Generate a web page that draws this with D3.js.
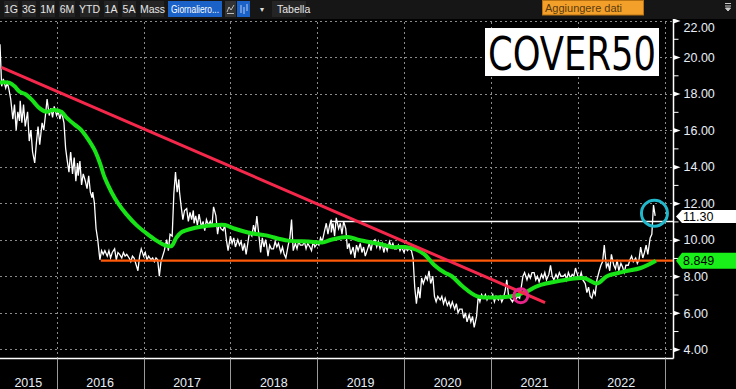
<!DOCTYPE html>
<html>
<head>
<meta charset="utf-8">
<script src="https://cdn.jsdelivr.net/npm/d3@7"></script>
<style>
  html, body { margin: 0; padding: 0; background: #000; overflow: hidden; }
  svg { display: block; font-family: "Liberation Sans", Arial, sans-serif; }
</style>
</head>
<body>
<div id="chart"></div>
<script>
// ---- data ----
// weekly closes, grouped by month (1st, 8th, 15th, 22nd, 29th)
const priceMonths = [
  '2015-05', '2015-06', '2015-07', '2015-08', '2015-09', '2015-10', '2015-11', '2015-12',
  '2016-01', '2016-02', '2016-03', '2016-04', '2016-05', '2016-06', '2016-07', '2016-08', '2016-09', '2016-10', '2016-11', '2016-12',
  '2017-01', '2017-02', '2017-03', '2017-04', '2017-05', '2017-06', '2017-07', '2017-08', '2017-09', '2017-10', '2017-11', '2017-12',
  '2018-01', '2018-02', '2018-03', '2018-04', '2018-05', '2018-06', '2018-07', '2018-08', '2018-09', '2018-10', '2018-11', '2018-12',
  '2019-01', '2019-02', '2019-03', '2019-04', '2019-05', '2019-06', '2019-07', '2019-08', '2019-09', '2019-10', '2019-11', '2019-12',
  '2020-01', '2020-02', '2020-03', '2020-04', '2020-05', '2020-06', '2020-07', '2020-08', '2020-09', '2020-10', '2020-11', '2020-12',
  '2021-01', '2021-02', '2021-03', '2021-04', '2021-05', '2021-06', '2021-07', '2021-08', '2021-09', '2021-10', '2021-11', '2021-12',
  '2022-01', '2022-02', '2022-03', '2022-04', '2022-05', '2022-06', '2022-07', '2022-08', '2022-09', '2022-10', '2022-11'
];
const priceWeeks = [
  [18.5, 20.7, 18.4, 18.8], [18.3, 18.6, 18.2, 17.7], [16.6, 17.4, 16.0, 17.0, 16.5], [17.6, 16.4, 17.4, 16.2],
  [17.0, 15.4, 16.0, 14.8], [14.2, 15.3, 16.2, 15.2], [16.4, 16.0, 16.8, 17.7], [16.8, 17.2, 16.7, 17.3],
  [16.8, 17.0, 16.6, 17.0], [16.4, 15.0, 14.3, 13.7, 14.8], [14.7, 13.6, 14.5, 13.2, 14.2], [13.5, 14.3, 13.0, 13.6],
  [13.2, 12.8, 13.5, 12.6, 12.3], [12.6, 12.0, 10.6, 10.0], [8.9, 9.4, 9.2, 9.4], [9.1, 9.4, 9.0, 9.3],
  [9.5, 8.9, 9.3, 9.2], [9.0, 9.3, 9.1, 9.2], [9.0, 8.8, 9.1, 9.0], [8.6, 8.3, 9.1, 9.5],
  [9.1, 9.3, 8.9, 9.1], [8.9, 9.0, 8.8, 9.0], [8.9, 8.0, 8.8, 9.1, 9.4], [9.6, 10.0, 9.4, 10.3],
  [10.2, 12.5, 13.7, 12.6, 13.3], [12.6, 11.8, 11.1, 11.6], [11.7, 11.0, 11.5, 11.1, 11.6], [10.9, 11.3, 10.8, 11.4],
  [10.7, 11.0, 10.5, 11.1], [10.8, 11.0, 10.7, 11.8], [11.3, 10.3, 10.9, 10.6], [10.5, 10.8, 10.0, 9.4],
  [10.2, 9.8, 10.1, 9.6], [10.0, 9.7, 9.9, 9.4], [9.8, 9.2, 9.8, 10.4], [10.2, 10.8, 10.4, 11.3],
  [10.2, 9.3, 10.1, 9.6, 10.0], [9.8, 9.1, 9.7, 9.5], [9.5, 9.9, 9.6, 9.8], [9.3, 9.6, 9.2, 9.0],
  [9.7, 10.1, 11.1, 9.4], [9.8, 9.5, 9.9, 9.7], [9.7, 9.9, 9.5, 9.8], [9.6, 9.4, 9.9, 9.6],
  [9.8, 9.7, 10.1, 9.9], [10.5, 10.9, 10.3, 10.8, 11.1], [10.4, 10.9, 10.2, 11.2], [10.6, 10.9, 10.3, 11.0],
  [10.6, 9.5, 9.8, 9.2], [9.6, 9.0, 9.7, 9.4], [9.8, 9.3, 9.6, 9.1], [9.5, 9.8, 9.4, 9.9],
  [10.0, 9.6, 9.9, 9.5], [9.8, 9.3, 9.7, 9.4], [9.9, 9.6, 9.8, 9.5], [9.5, 9.7, 9.4, 9.6],
  [9.3, 9.6, 9.4, 9.5], [9.4, 9.0, 7.4, 6.5], [7.4, 6.8, 7.9, 7.6], [8.0, 7.8, 8.3, 7.6],
  [8.0, 6.9, 6.6, 6.9], [6.7, 6.9, 6.5, 6.8], [6.4, 6.6, 6.3, 6.6], [6.2, 6.5, 6.0, 6.2],
  [6.2, 5.7, 6.0, 5.5], [5.9, 5.5, 5.8, 5.2], [5.8, 6.9, 6.6, 7.0], [6.8, 7.0, 6.7, 6.9],
  [6.8, 7.0, 6.6, 6.9], [6.7, 6.9, 6.6, 6.8], [7.2, 7.8, 7.0, 6.8], [6.6, 6.8, 6.7, 6.9],
  [6.8, 7.4, 8.0, 8.2], [7.8, 8.1, 7.9, 8.2], [8.2, 7.8, 8.0, 7.7], [8.1, 7.9, 8.2, 7.8],
  [8.1, 8.6, 8.0, 7.8], [8.1, 7.9, 8.2, 8.0], [8.0, 8.1, 7.8, 8.2], [7.9, 8.1, 8.0, 8.45],
  [8.0, 7.9, 8.2, 7.8], [7.6, 7.1, 7.4, 6.9], [6.8, 7.2, 7.0, 7.8], [8.3, 8.6, 8.8, 9.7],
  [8.5, 8.7, 8.3, 9.2], [8.6, 8.4, 8.9, 8.3], [8.7, 8.5, 8.2, 8.6], [8.6, 8.9, 9.1, 8.8],
  [9.0, 8.7, 8.9, 9.6], [9.0, 9.3, 9.7, 9.2], [10.1, 10.3, 11.9, 11.3]
];

// moving average (green)
const maDates = [
  '2015-05-06', '2015-06-15', '2015-07-08', '2015-07-29', '2015-08-25', '2015-09-23', '2015-10-21', '2015-11-19',
  '2015-12-16', '2016-01-21', '2016-02-11', '2016-03-17', '2016-04-14', '2016-05-12', '2016-06-09', '2016-07-01',
  '2016-07-21', '2016-08-19', '2016-09-15', '2016-10-20', '2016-12-02', '2017-01-13', '2017-02-24', '2017-03-30',
  '2017-04-28', '2017-05-18', '2017-06-08', '2017-07-21', '2017-08-24', '2017-11-04', '2017-12-09', '2018-01-20',
  '2018-03-29', '2018-05-24', '2018-08-31', '2018-11-24', '2019-01-21', '2019-03-01', '2019-05-10', '2019-06-21',
  '2019-08-16', '2019-09-28', '2019-11-08', '2020-01-05', '2020-02-22', '2020-03-27', '2020-05-08', '2020-06-19',
  '2020-07-20', '2020-09-03', '2020-11-04', '2021-02-06', '2021-03-28', '2021-05-30', '2021-07-12', '2021-10-18',
  '2022-01-25', '2022-03-23', '2022-05-03', '2022-07-13', '2022-09-22', '2022-11-25'
];
const maValues = [
  18.6, 18.6, 18.4, 18.1, 17.95, 17.6, 17.2, 17.0,
  17.1, 17.0, 16.7, 16.3, 16.0, 15.5, 14.9, 14.2,
  13.4, 12.6, 12.0, 11.4, 10.8, 10.35, 9.95, 9.7,
  9.65, 10.1, 10.4, 10.6, 10.7, 10.8, 10.8, 10.6,
  10.35, 10.25, 9.95, 9.9, 9.85, 10.0, 10.15, 10.0,
  9.85, 9.75, 9.6, 9.6, 9.45, 9.2, 8.6, 8.2,
  8.0, 7.45, 6.9, 6.85, 6.9, 7.15, 7.45, 7.75,
  7.9, 7.6, 8.0, 8.25, 8.45, 8.85
];

// drawn studies
const trendDates = ['2015-05-14', '2021-08-16'];
const trendValues = [19.44, 6.56];
const supportStart = '2016-07-05';
const supportValue = 8.849;
const resistStart = '2019-02-23';
const resistValue = 11.0;
const lastPrice = 11.30;
const lastMa = 8.849;
const circleDates = ['2022-11-19', '2021-05-06'];
const circleValues = [11.45, 6.93];

const yMajor = [4, 6, 8, 10, 12, 14, 16, 18, 20, 22];
const yMinor = [5, 7, 9, 11, 13, 15, 17, 19, 21];
const yearLabels = ['2015', '2016', '2017', '2018', '2019', '2020', '2021', '2022'];
const rangeButtons = ['1G', '3G', '1M', '6M', 'YTD', '1A', '5A', 'Mass'];
const title = 'COVER50';

// ---- layout ----
const W = 736, H = 389;
const plotRight = 673.5, plotTop = 17, plotBottom = 358.5;
const parse = d3.timeParse('%Y-%m-%d');

const svg = d3.select('#chart').append('svg').attr('width', W).attr('height', H);
svg.append('rect').attr('width', W).attr('height', H).attr('fill', '#000');

const x = d3.scaleTime()
  .domain([new Date(2015, 4, 8), new Date(2023, 1, 5)])
  .range([0, 673]);
const y = d3.scaleLinear().domain([4, 22]).range([349.3, 20.5]);

// price points
const prices = [];
priceMonths.forEach(function (m, i) {
  const parts = m.split('-');
  priceWeeks[i].forEach(function (v, k) {
    prices.push({ date: new Date(+parts[0], +parts[1] - 1, 1 + 7 * k), value: v });
  });
});
const ma = maDates.map(function (d, i) { return { date: parse(d), value: maValues[i] }; });

svg.append('defs').append('clipPath').attr('id', 'plot-clip')
  .append('rect').attr('x', 0).attr('y', plotTop).attr('width', plotRight).attr('height', plotBottom - plotTop);

// grid
const grid = svg.append('g').attr('stroke', '#8a8a8a').attr('stroke-width', 1).attr('stroke-dasharray', '2,3');
const yearStarts = d3.timeYear.range(new Date(2016, 0, 1), new Date(2023, 0, 2));
grid.selectAll('line.h').data(yMajor).join('line')
  .attr('class', 'h')
  .attr('x1', 0).attr('x2', plotRight)
  .attr('y1', function (d) { return Math.round(y(d)) + 0.5; })
  .attr('y2', function (d) { return Math.round(y(d)) + 0.5; });
grid.selectAll('line.v').data(yearStarts).join('line')
  .attr('class', 'v')
  .attr('x1', function (d) { return Math.round(x(d)) + 0.5; })
  .attr('x2', function (d) { return Math.round(x(d)) + 0.5; })
  .attr('y1', plotTop).attr('y2', plotBottom);

const plot = svg.append('g').attr('clip-path', 'url(#plot-clip)');

// price
plot.append('path')
  .datum(prices)
  .attr('fill', 'none')
  .attr('stroke', '#fff')
  .attr('stroke-width', 1.3)
  .attr('d', d3.line().x(function (d) { return x(d.date); }).y(function (d) { return y(d.value); }));

// resistance (white) and support (orange)
plot.append('line')
  .attr('x1', x(parse(resistStart))).attr('x2', plotRight)
  .attr('y1', y(resistValue)).attr('y2', y(resistValue))
  .attr('stroke', '#fff').attr('stroke-width', 1.5);
plot.append('line')
  .attr('x1', x(parse(supportStart))).attr('x2', plotRight)
  .attr('y1', y(supportValue)).attr('y2', y(supportValue))
  .attr('stroke', '#ff5a0a').attr('stroke-width', 2.2);

// moving average
plot.append('path')
  .datum(ma)
  .attr('fill', 'none')
  .attr('stroke', '#17e317')
  .attr('stroke-width', 4)
  .attr('stroke-linejoin', 'round')
  .attr('d', d3.line().curve(d3.curveCatmullRom.alpha(0.5))
    .x(function (d) { return x(d.date); }).y(function (d) { return y(d.value); }));

// trend line
plot.append('line')
  .attr('x1', x(parse(trendDates[0]))).attr('y1', y(trendValues[0]))
  .attr('x2', x(parse(trendDates[1]))).attr('y2', y(trendValues[1]))
  .attr('stroke', '#f5284c').attr('stroke-width', 3);

// circles
const circleColors = ['#22b8cc', '#e8238a'];
const circleR = [13, 7];
plot.selectAll('circle.mark').data(circleDates).join('circle')
  .attr('class', 'mark')
  .attr('cx', function (d) { return x(parse(d)); })
  .attr('cy', function (d, i) { return y(circleValues[i]); })
  .attr('r', function (d, i) { return circleR[i]; })
  .attr('fill', 'none')
  .attr('stroke', function (d, i) { return circleColors[i]; })
  .attr('stroke-width', 3);

// right axis
const axisR = d3.axisRight(y).tickValues(yMajor).tickFormat(d3.format('.2f')).tickSize(0).tickPadding(10);
const gR = svg.append('g').attr('transform', 'translate(' + plotRight + ',0)').call(axisR);
gR.select('.domain').remove();
gR.selectAll('text')
  .attr('fill', '#e8eef8')
  .style('font-size', '12.5px')
  .attr('dy', function (d) { return d === 22 ? '0.9em' : '0.34em'; });
gR.selectAll('.tick').append('path')
  .attr('d', 'M0,-2.5L7,0L0,2.5Z')
  .attr('fill', '#fff');
const axisMinor = d3.axisRight(y).tickValues(yMinor).tickFormat('').tickSize(5);
const gM = svg.append('g').attr('transform', 'translate(' + plotRight + ',0)').call(axisMinor);
gM.select('.domain').remove();
gM.selectAll('line').attr('stroke', '#fff');

svg.append('line').attr('x1', plotRight).attr('x2', plotRight).attr('y1', plotTop).attr('y2', plotBottom)
  .attr('stroke', '#fff').attr('stroke-width', 1.5);
svg.append('line').attr('x1', 0).attr('x2', plotRight).attr('y1', plotBottom).attr('y2', plotBottom)
  .attr('stroke', '#fff').attr('stroke-width', 1.5);

// last value tags
function tag(value, fill, label, h, shift) {
  const cy = y(value) + shift;
  const g = svg.append('g');
  g.append('path')
    .attr('d', 'M676,' + cy + 'L682,' + (cy - h / 2) + 'L736,' + (cy - h / 2) + 'L736,' + (cy + h / 2) + 'L682,' + (cy + h / 2) + 'Z')
    .attr('fill', fill);
  g.append('text').attr('x', 683).attr('y', cy).attr('dy', '0.36em')
    .attr('fill', '#000').style('font-size', '12.5px').text(label);
}
tag(lastPrice, '#ffffff', lastPrice.toFixed(2), 13, 0.5);
tag(lastMa, '#19f019', lastMa.toFixed(3), 16, 0);

// bottom year axis
svg.selectAll('line.sep').data(yearStarts).join('line')
  .attr('class', 'sep')
  .attr('x1', function (d) { return Math.round(x(d)) + 0.5; })
  .attr('x2', function (d) { return Math.round(x(d)) + 0.5; })
  .attr('y1', plotBottom).attr('y2', H)
  .attr('stroke', '#9a9a9a');
svg.selectAll('text.year').data(yearLabels).join('text')
  .attr('class', 'year')
  .attr('x', function (d) {
    const a = Math.max(0, x(new Date(+d, 0, 1)));
    const b = x(new Date(+d + 1, 0, 1));
    return (a + b) / 2;
  })
  .attr('y', 386.5)
  .attr('text-anchor', 'middle')
  .attr('fill', '#e8eef8')
  .style('font-size', '12.5px')
  .text(function (d) { return d; });

// title box
svg.append('rect').attr('x', 485).attr('y', 28).attr('width', 174).attr('height', 48).attr('fill', '#fff');
svg.append('text').attr('x', 488).attr('y', 69.5)
  .attr('textLength', 168).attr('lengthAdjust', 'spacingAndGlyphs')
  .style('font-family', '"DejaVu Sans Condensed", "Liberation Sans Narrow", "DejaVu Sans", sans-serif')
  .style('font-size', '46px')
  .attr('fill', '#000')
  .text(title);

// toolbar
const bar = svg.append('g');
bar.append('rect').attr('width', W).attr('height', 19).attr('fill', '#161616');
const btnX = [4, 22, 40, 59, 80, 104, 122, 141];
const btnW = [14, 14, 15, 16, 19, 14, 14, 23];
rangeButtons.forEach(function (b, i) {
  bar.append('rect').attr('x', btnX[i]).attr('y', 1).attr('width', btnW[i]).attr('height', 16).attr('fill', '#242424');
  bar.append('text').attr('x', btnX[i] + btnW[i] / 2).attr('y', 13).attr('text-anchor', 'middle')
    .attr('fill', '#e6e6e6').style('font-size', '10.5px').text(b);
});
bar.append('rect').attr('x', 168).attr('y', 1).attr('width', 54).attr('height', 16).attr('fill', '#1a62c8');
bar.append('text').attr('x', 171).attr('y', 13).attr('fill', '#fff').style('font-size', '10.5px')
  .attr('textLength', 48).attr('lengthAdjust', 'spacingAndGlyphs').text('Giornaliero...');
bar.append('rect').attr('x', 225).attr('y', 1).attr('width', 11).attr('height', 16).attr('fill', '#333');
bar.append('path').attr('d', 'M227,12L229,7L231,10L234,5M227,13.5L234,13.5').attr('fill', 'none')
  .attr('stroke', '#ddd').attr('stroke-width', 0.8);
bar.append('rect').attr('x', 237).attr('y', 1).attr('width', 13).attr('height', 16).attr('fill', '#1a62c8');
bar.append('path').attr('d', 'M241,5L241,13M244,7L244,14M247,4L247,11').attr('stroke', '#dfe9ff').attr('stroke-width', 0.8);
bar.append('text').attr('x', 262).attr('y', 12).attr('text-anchor', 'middle').attr('fill', '#ddd')
  .style('font-size', '8px').text('▾');
bar.append('rect').attr('x', 272).attr('y', 1).attr('width', 34).attr('height', 16).attr('fill', '#242424');
bar.append('text').attr('x', 277).attr('y', 13).attr('fill', '#e6e6e6').style('font-size', '10.5px').text('Tabella');
bar.append('rect').attr('x', 542.5).attr('y', 0.5).attr('width', 101).attr('height', 14.5)
  .attr('fill', '#f3a02a').attr('stroke', '#b87212');
bar.append('text').attr('x', 545).attr('y', 12).attr('fill', '#5a3a10').style('font-size', '11px').text('Aggiungere dati');
bar.append('path').attr('d', 'M725,3.5L731,3.5M725,6L731,6M725.5,8L730.5,8L728,11Z').attr('stroke', '#ccc')
  .attr('stroke-width', 1).attr('fill', '#ccc');
</script>
</body>
</html>
